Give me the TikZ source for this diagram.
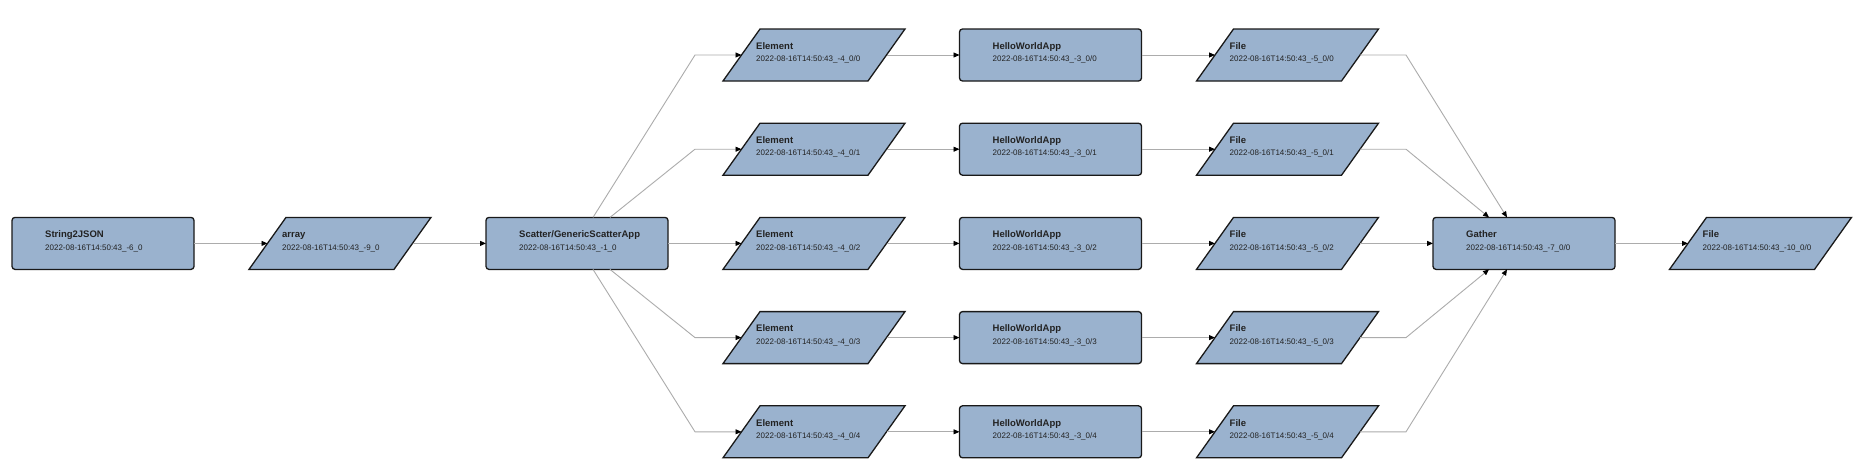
\documentclass[tikz,border=0pt]{standalone}
\usepackage{fontspec}
\setmainfont{Liberation Sans}
\usetikzlibrary{arrows.meta}
\definecolor{nodefill}{RGB}{154,178,206}
\definecolor{edgegray}{RGB}{172,172,172}
\definecolor{txt}{RGB}{34,34,34}
\definecolor{bord}{RGB}{25,25,25}
\tikzset{
  proc/.style={draw=bord, line width=1.3pt, fill=nodefill, rounded corners=3pt,
    minimum width=182pt, minimum height=52pt, inner sep=0pt, outer sep=0pt},
  data/.style={minimum width=182pt, minimum height=52pt, inner sep=0pt, outer sep=0pt},
  databox/.style={draw=bord, line width=1.3pt, fill=nodefill, line join=miter},
  ttl/.style={anchor=base west, font=\bfseries\fontsize{9.5}{11}\selectfont, text=txt, inner sep=0pt},
  dt/.style={anchor=base west, font=\fontsize{8}{10}\selectfont, text=txt, inner sep=0pt},
  edge/.style={draw=edgegray, line width=0.9pt, -{Triangle[length=6pt,width=5pt,color=black]}},
}
\newcommand\mkproc[5]{%
  \node[proc] (#1) at (#2,#3) {};
  \node[ttl] (#1t) at ([xshift=33pt,yshift=5.7pt]#1.west) {#4};
  \node[dt] (#1d) at ([xshift=33pt,yshift=-6.7pt]#1.west) {#5};}
\newcommand\mkdata[5]{%
  \node[data] (#1) at (#2,#3) {};
  \draw[databox] ([xshift=37pt]#1.north west) -- (#1.north east)
     -- ([xshift=-37pt]#1.south east) -- (#1.south west) -- cycle;
  \node[ttl] (#1t) at ([xshift=33pt,yshift=5.7pt]#1.west) {#4};
  \node[dt] (#1d) at ([xshift=33pt,yshift=-6.7pt]#1.west) {#5};}
\begin{document}
\begin{tikzpicture}[x=1pt,y=1pt]
\fill[white] (0,0) rectangle (1858,-471);
\useasboundingbox (0,0) rectangle (1858,-471);
\mkproc{s2j}{103}{-243.4}{String2JSON}{2022-08-16T14:50:43\_-6\_0}
\mkdata{arr}{340}{-243.4}{array}{2022-08-16T14:50:43\_-9\_0}
\mkproc{sc}{577}{-243.4}{Scatter/GenericScatterApp}{2022-08-16T14:50:43\_-1\_0}
\foreach \j in {0,...,4}{
  \pgfmathsetmacro\yy{-(55+94.2*\j)}
  \mkdata{e\j}{814}{\yy}{Element}{2022-08-16T14:50:43\_-4\_0/\j}
  \mkproc{h\j}{1050.5}{\yy}{HelloWorldApp}{2022-08-16T14:50:43\_-3\_0/\j}
  \mkdata{f\j}{1287.5}{\yy}{File}{2022-08-16T14:50:43\_-5\_0/\j}
}
\mkproc{g}{1524}{-243.4}{Gather}{2022-08-16T14:50:43\_-7\_0/0}
\mkdata{out}{1760.5}{-243.4}{File}{2022-08-16T14:50:43\_-10\_0/0}
% connectors
\draw[edge] (s2j.east) -- ([xshift=18.5pt]arr.west);
\draw[edge] ([xshift=-18.5pt]arr.east) -- (sc.west);
\draw[edge] ([xshift=16pt]sc.north) -- ([xshift=-28pt]e0.west) -- ([xshift=18.5pt]e0.west);
\draw[edge] ([xshift=33pt]sc.north) -- ([xshift=-28pt]e1.west) -- ([xshift=18.5pt]e1.west);
\draw[edge] (sc.east) -- ([xshift=18.5pt]e2.west);
\draw[edge] ([xshift=33pt]sc.south) -- ([xshift=-28pt]e3.west) -- ([xshift=18.5pt]e3.west);
\draw[edge] ([xshift=16pt]sc.south) -- ([xshift=-28pt]e4.west) -- ([xshift=18.5pt]e4.west);
\foreach \j in {0,...,4}{
  \draw[edge] ([xshift=-18.5pt]e\j.east) -- (h\j.west);
  \draw[edge] (h\j.east) -- ([xshift=18.5pt]f\j.west);
}
\draw[edge] ([xshift=-18.5pt]f0.east) -- ([xshift=27.5pt]f0.east) -- ([xshift=-17pt]g.north);
\draw[edge] ([xshift=-18.5pt]f1.east) -- ([xshift=27.5pt]f1.east) -- ([xshift=-35pt]g.north);
\draw[edge] ([xshift=-18.5pt]f2.east) -- (g.west);
\draw[edge] ([xshift=-18.5pt]f3.east) -- ([xshift=27.5pt]f3.east) -- ([xshift=-35pt]g.south);
\draw[edge] ([xshift=-18.5pt]f4.east) -- ([xshift=27.5pt]f4.east) -- ([xshift=-17pt]g.south);
\draw[edge] (g.east) -- ([xshift=18.5pt]out.west);
\end{tikzpicture}
\end{document}
